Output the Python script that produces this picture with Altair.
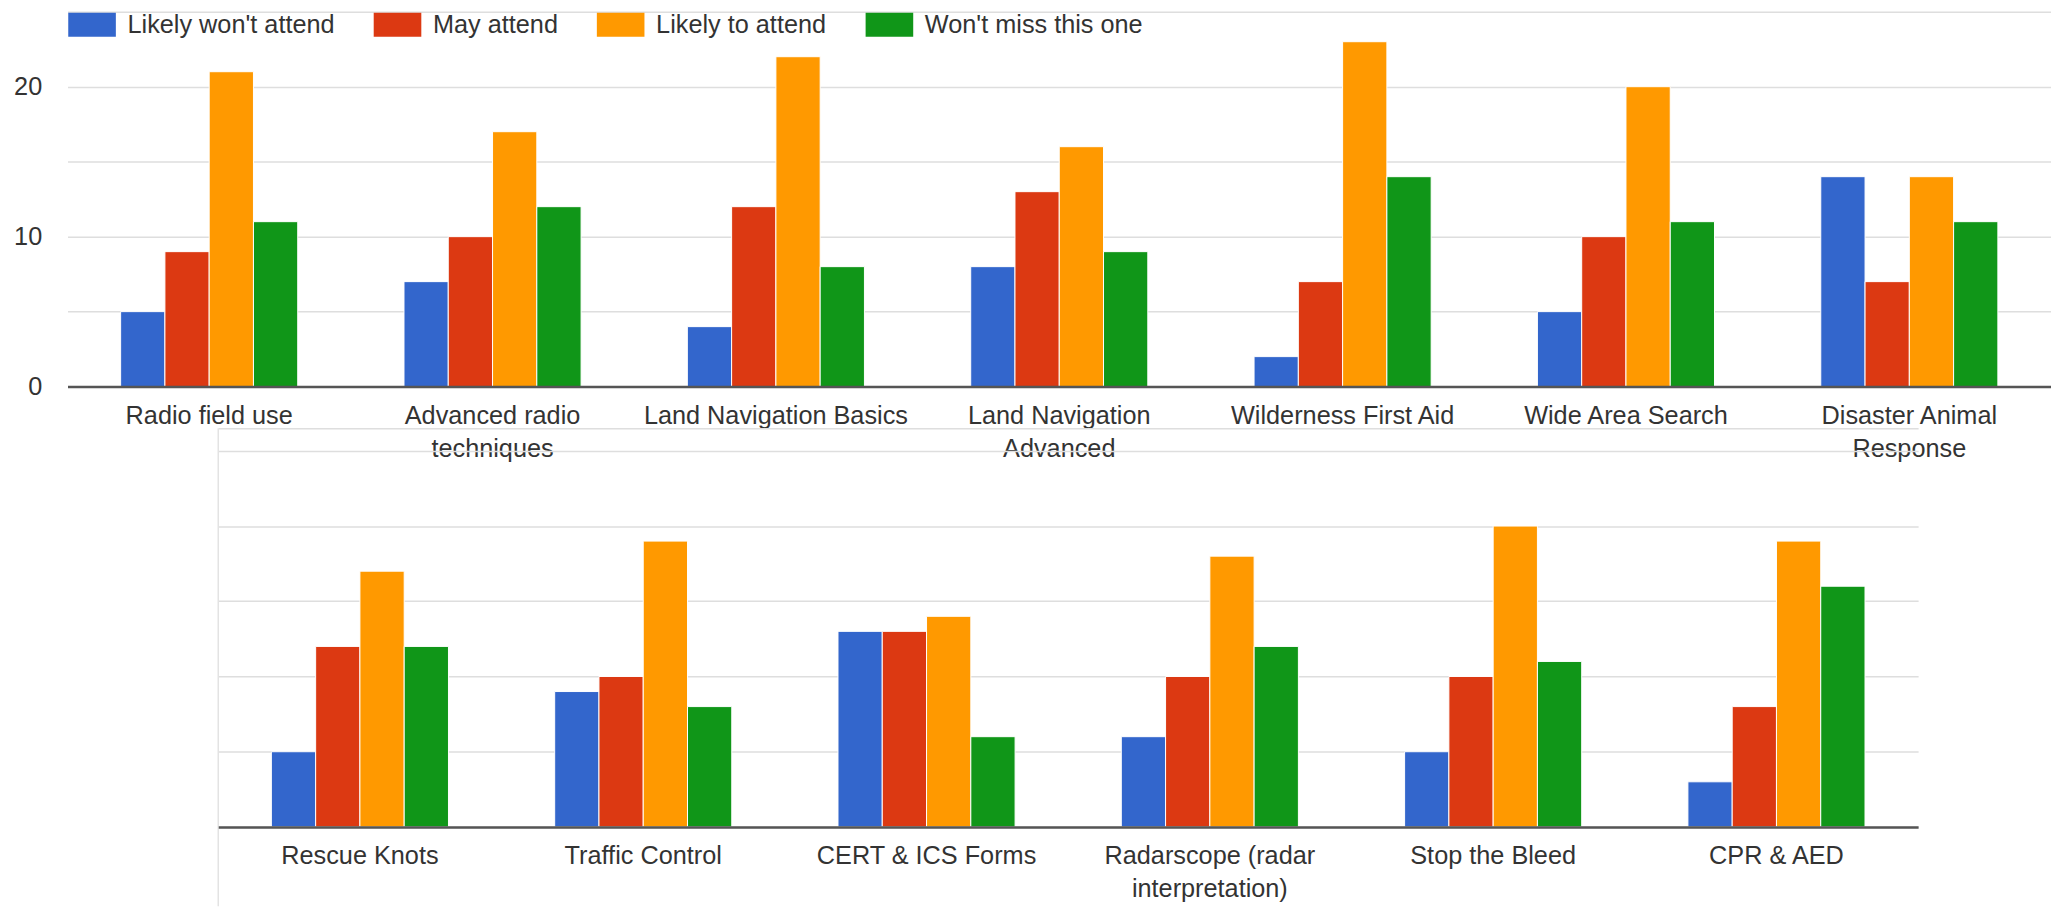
import json
import altair as alt
import pandas as pd

FONT = "Liberation Sans, Arial, sans-serif"
FS = 25.5

series = ["Likely won't attend", "May attend", "Likely to attend", "Won't miss this one"]
colors = ["#3366CC", "#DC3912", "#FF9900", "#109618"]

top_topics = ["Radio field use", "Advanced radio techniques", "Land Navigation Basics",
              "Land Navigation Advanced", "Wilderness First Aid", "Wide Area Search",
              "Disaster Animal Response"]
top_wont = [5, 7, 4, 8, 2, 5, 14]
top_may = [9, 10, 12, 13, 7, 10, 7]
top_likely = [21, 17, 22, 16, 23, 20, 14]
top_miss = [11, 12, 8, 9, 14, 11, 11]

bottom_topics = ["Rescue Knots", "Traffic Control", "CERT & ICS Forms",
                 "Radarscope (radar interpretation)", "Stop the Bleed", "CPR & AED"]
bottom_wont = [5, 9, 13, 6, 5, 3]
bottom_may = [12, 10, 13, 10, 10, 8]
bottom_likely = [17, 19, 14, 18, 20, 19]
bottom_miss = [12, 8, 6, 12, 11, 16]

wrapped = {
    "Advanced radio techniques": ["Advanced radio", "techniques"],
    "Land Navigation Advanced": ["Land Navigation", "Advanced"],
    "Disaster Animal Response": ["Disaster Animal", "Response"],
    "Radarscope (radar interpretation)": ["Radarscope (radar", "interpretation)"],
}

label_expr = "datum.value"
for k, lines in wrapped.items():
    label_expr = f"datum.value === {json.dumps(k)} ? {json.dumps(lines)} : ({label_expr})"


def to_long(topics, cols):
    rows = []
    for i, t in enumerate(topics):
        for s, col in zip(series, cols):
            rows.append({"topic": t, "series": s, "count": col[i]})
    return pd.DataFrame(rows)


top_df = to_long(top_topics, [top_wont, top_may, top_likely, top_miss])
bottom_df = to_long(bottom_topics, [bottom_wont, bottom_may, bottom_likely, bottom_miss])

legend = alt.Legend(
    orient="none", legendX=12, legendY=0, direction="horizontal", title=None,
    symbolType="M-2,-1H2V1H-2Z", symbolSize=576, symbolStrokeWidth=0,
    symbolOpacity=1, labelFontSize=FS, labelFont=FONT, labelColor="#333333",
    labelLimit=1000, columnPadding=38, labelOffset=23, padding=0, columns=4,
)


def x_axis():
    return alt.Axis(labelAngle=0, labelFontSize=FS, labelFont=FONT, labelColor="#333333",
                    labelLineHeight=33, labelPadding=17, ticks=False, tickSize=0,
                    domainColor="#555555", domainWidth=2.5, title=None, labelLimit=500,
                    labelExpr=label_expr, zindex=1)


def panel(df, topics, width, height, ymax, yaxis):
    return alt.Chart(df).mark_bar(stroke="white", strokeWidth=1).encode(
        x=alt.X("topic:N", sort=topics,
                scale=alt.Scale(paddingInner=0.375, paddingOuter=0.1875), axis=x_axis()),
        xOffset=alt.XOffset("series:N", sort=series,
                            scale=alt.Scale(paddingInner=0, paddingOuter=0)),
        y=alt.Y("count:Q", scale=alt.Scale(domain=[0, ymax], nice=False, zero=True),
                axis=yaxis),
        color=alt.Color("series:N", scale=alt.Scale(domain=series, range=colors),
                        legend=legend, sort=series),
    ).properties(width=width, height=height)


top_yaxis = alt.Axis(values=[0, 5, 10, 15, 20, 25],
                     labelExpr="datum.value % 10 === 0 ? datum.label : ''",
                     labelFontSize=FS, labelFont=FONT, labelColor="#333333",
                     labelPadding=26, ticks=False, domain=False,
                     gridColor="#dedede", gridWidth=1.5, title=None,
                     minExtent=60, maxExtent=60)

# bottom panel: its card border sits at the top of the plot area (26.5)
bottom_max = 26.5
bottom_yaxis = alt.Axis(values=[0, 5, 10, 15, 20, 25, bottom_max], labels=False, ticks=False,
                        domain=False, gridColor="#dedede", gridWidth=1.5, title=None,
                        minExtent=0, maxExtent=0)

top = panel(top_df, top_topics, 2000, 378, 25, top_yaxis)

bottom_bars = panel(bottom_df, bottom_topics, 1714, 402, bottom_max, bottom_yaxis)
card_edge = alt.Chart(pd.DataFrame({"a": [0]})).mark_rule(
    color="#e3e3e3", strokeWidth=1.5
).encode(x=alt.value(0), y=alt.value(0), y2=alt.value(482))
bottom = alt.layer(card_edge, bottom_bars).properties(width=1714, height=402)

spacer = alt.Chart(pd.DataFrame({"v": []})).mark_point(opacity=0).encode(
    x=alt.value(0), y=alt.value(0)
).properties(width=151, height=10)

chart = alt.vconcat(
    top,
    alt.hconcat(spacer, bottom, spacing=0),
    spacing=42,
    bounds="flush",
).configure_view(stroke=None).properties(
    padding={"left": 0, "top": 0, "right": 0, "bottom": 0}
)

chart.save("out.html", embed_options={"renderer": "svg", "actions": False})
